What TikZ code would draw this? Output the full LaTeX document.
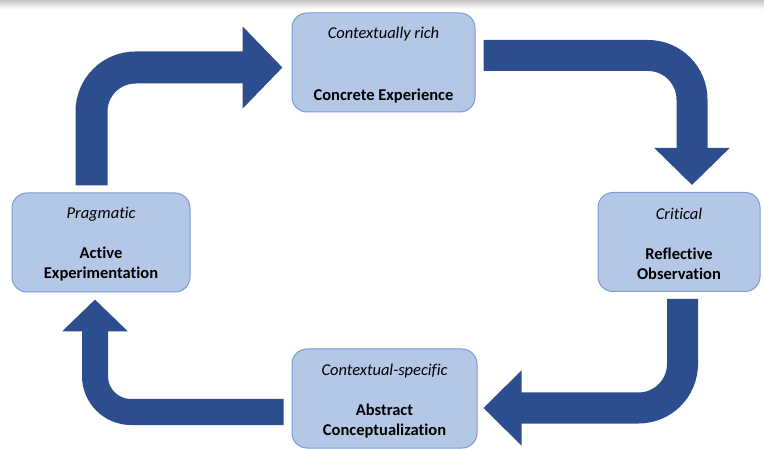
\documentclass[tikz,border=0pt]{standalone}
\usepackage{fontspec}
\setmainfont{Carlito}[Ligatures=NoCommon]
\usetikzlibrary{positioning,arrows.meta}
\definecolor{boxfill}{HTML}{B4C7E7}
\definecolor{boxline}{HTML}{7D9BD3}
\definecolor{arrowblue}{HTML}{2C4E8E}

\begin{document}
\begin{tikzpicture}[x=1pt,y=-1pt,
    stage/.style={draw=boxline, fill=boxfill, line width=1pt, rounded corners=15pt, inner sep=0pt, minimum height=99pt},
    mode/.style={font=\fontsize{16.5}{20}\selectfont\itshape, inner sep=0pt},
    stagename/.style={font=\fontsize{16.5}{20}\selectfont\bfseries, align=center, inner sep=0pt},
    flow/.style={draw=arrowblue, line width=31pt, rounded corners=44pt}]
    \useasboundingbox (0,0) rectangle (764,449);
    % screenshot edge
    \shade[top color=black!22, bottom color=white] (0,0) rectangle (764,9);

    % Stages
    \node[stage, minimum width=183pt] (ce) at (383.5,62.5) {};
    \node[stage, minimum width=162pt] (ro) at (679,242) {};
    \node[stage, minimum width=185pt] (ac) at (384.5,398.5) {};
    \node[stage, minimum width=178pt] (ae) at (101,242.5) {};

    % Stage texts
    \node[mode] (ce mode) at ([yshift=-22pt]ce.north) {Contextually rich};
    \node[stagename] (ce name) at ([yshift=-84pt]ce.north) {Concrete Experience};
    \node[mode] (ro mode) at ([yshift=-22pt]ro.north) {Critical};
    \node[stagename] (ro name) at ([yshift=-72pt]ro.north) {Reflective\\Observation};
    \node[mode] (ac mode) at ([yshift=-23pt]ac.north) {Contextual-specific};
    \node[stagename] (ac name) at ([yshift=-73pt]ac.north) {Abstract\\Conceptualization};
    \node[mode] (ae mode) at ([yshift=-22pt]ae.north) {Pragmatic};
    \node[stagename] (ae name) at ([yshift=-72pt]ae.north) {Active\\Experimentation};

    % Cycle arrows
    \draw[flow, line width=32pt, -{Triangle[length=40pt,width=80pt]}]
        ([xshift=-9.5pt,yshift=7pt]ae.north) |- ([xshift=-9pt,yshift=-5pt]ce.west);
    \draw[flow, -{Triangle[length=37pt,width=73pt]}]
        ([xshift=8pt,yshift=7pt]ce.east) -| ([xshift=13pt,yshift=7pt]ro.north);
    \draw[flow, -{Triangle[length=38pt,width=73pt]}]
        ([xshift=3.5pt,yshift=-7pt]ro.south) |- ([xshift=6pt,yshift=-9.5pt]ac.east);
    \draw[flow, line width=26pt, rounded corners=36pt, -{Triangle[length=32pt,width=64pt]}]
        ([xshift=-8pt,yshift=-13.5pt]ac.west) -| ([xshift=-6pt,yshift=-7pt]ae.south);
\end{tikzpicture}
\end{document}
